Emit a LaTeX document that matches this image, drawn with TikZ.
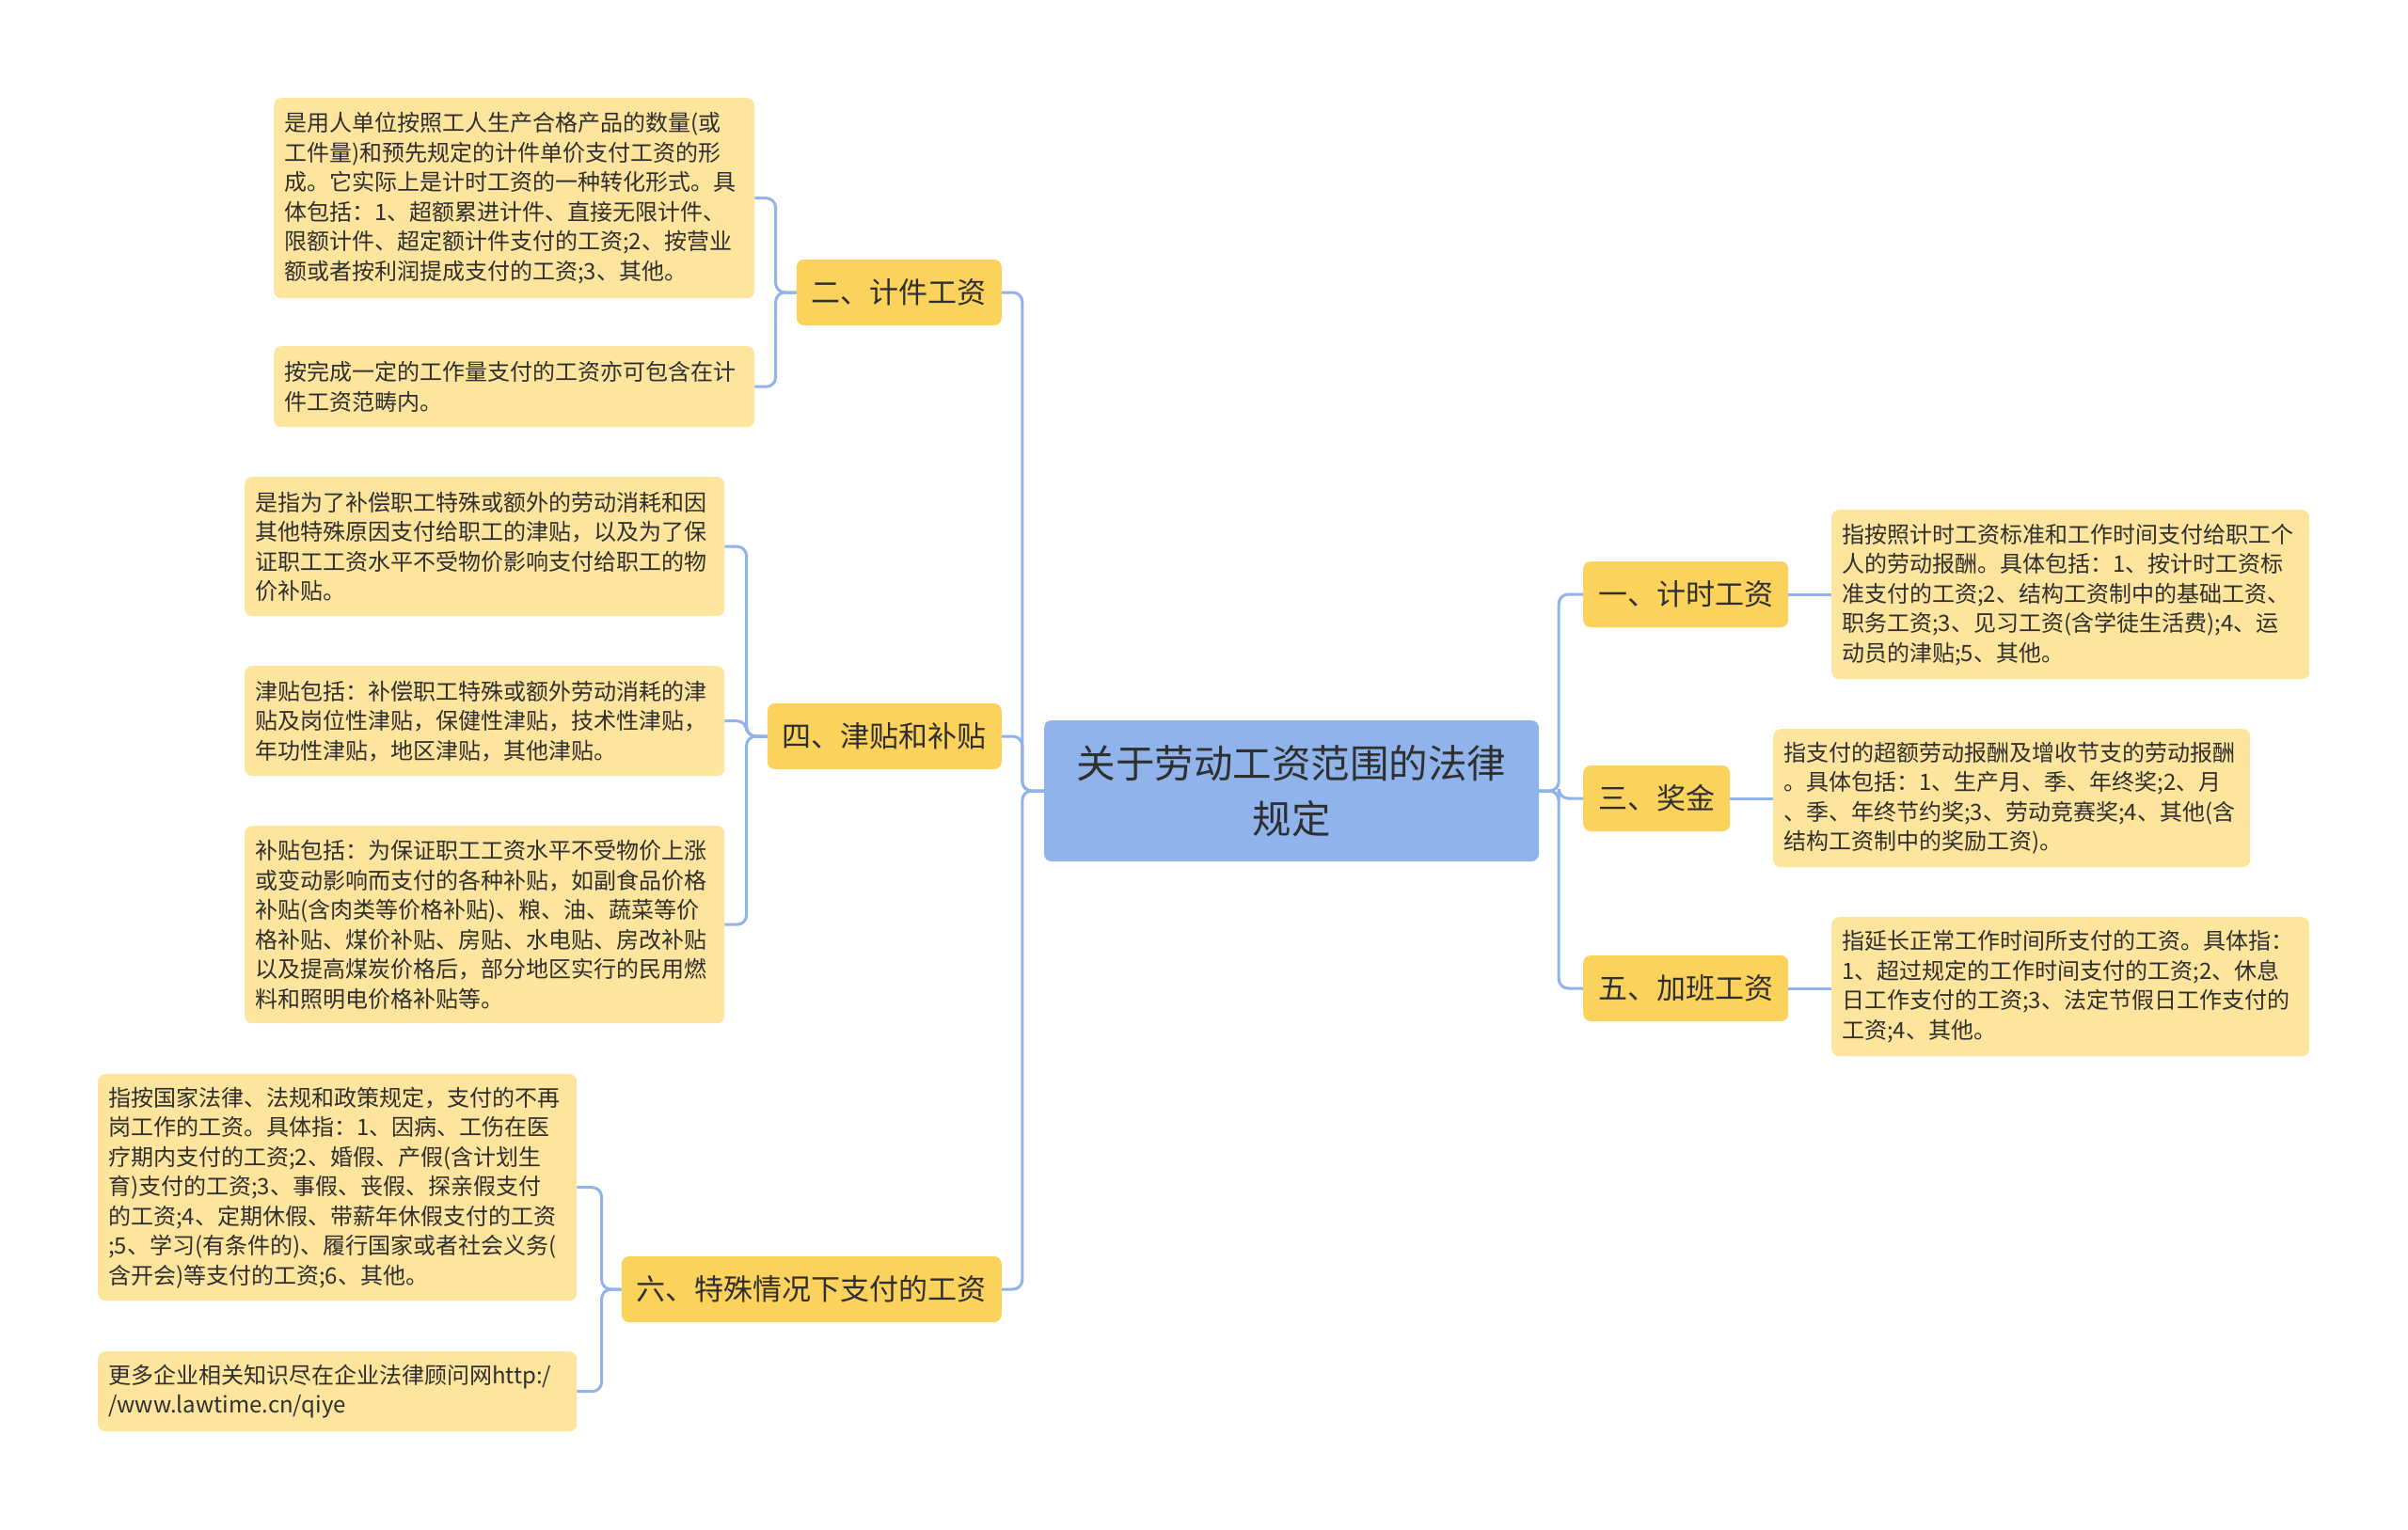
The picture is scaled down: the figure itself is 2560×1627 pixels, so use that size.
\documentclass[tikz,border=0pt]{standalone}
\usepackage{fontspec}
\newfontfamily\cjk{Noto Sans CJK SC}
\usepackage{tikz}

\definecolor{rootblue}{HTML}{8FB3EA}
\definecolor{branchyellow}{HTML}{FBD25B}
\definecolor{leafyellow}{HTML}{FDE59E}
\definecolor{textgray}{HTML}{2F2F2F}
\definecolor{linkblue}{HTML}{8FB3EA}

\tikzset{
  rootnode/.style={fill=rootblue, rounded corners=8pt, minimum width=526pt,
    minimum height=150pt, align=center, text=textgray,
    font=\cjk\fontsize{41.5}{59}\selectfont},
  branch/.style={fill=branchyellow, rounded corners=8pt, inner xsep=16pt,
    minimum height=70pt, text=textgray, font=\cjk\fontsize{31}{36}\selectfont},
  leaf/.style={fill=leafyellow, rounded corners=8pt, inner xsep=11pt,
    inner ysep=0pt, anchor=north west, align=left, text=textgray,
    font=\cjk\fontsize{24}{31.5}\selectfont},
  link/.style={draw=linkblue, line width=3pt, rounded corners=10pt},
}

\begin{document}
\begin{tikzpicture}[x=1pt,y=-1pt]
  \fill[white] (0,0) rectangle (2560,1627);
  % centre
  \node[rootnode] (root) at (1373,841) {关于劳动工资范围的法律\\规定};
  % left branches
  \node[branch,anchor=east] (b2) at (1065,311) {二、计件工资};
  \node[branch,anchor=east] (b4) at (1065,783) {四、津贴和补贴};
  \node[branch,anchor=east] (b6) at (1065,1371) {六、特殊情况下支付的工资};
  % right branches
  \node[branch,anchor=west] (b1) at (1683,632) {一、计时工资};
  \node[branch,anchor=west] (b3) at (1683,849) {三、奖金};
  \node[branch,anchor=west] (b5) at (1683,1051) {五、加班工资};
  % leaves of the left side
  \node[leaf,text width=489pt,minimum height=213pt] (l2a) at (291,104)
    {是用人单位按照工人生产合格产品的数量(或\\工件量)和预先规定的计件单价支付工资的形\\成。它实际上是计时工资的一种转化形式。具\\体包括：1、超额累进计件、直接无限计件、\\限额计件、超定额计件支付的工资;2、按营业\\额或者按利润提成支付的工资;3、其他。};
  \node[leaf,text width=489pt,minimum height=86pt] (l2b) at (291,368)
    {按完成一定的工作量支付的工资亦可包含在计\\件工资范畴内。};
  \node[leaf,text width=488pt,minimum height=148pt] (l4a) at (260,507)
    {是指为了补偿职工特殊或额外的劳动消耗和因\\其他特殊原因支付给职工的津贴，以及为了保\\证职工工资水平不受物价影响支付给职工的物\\价补贴。};
  \node[leaf,text width=488pt,minimum height=117pt] (l4b) at (260,708)
    {津贴包括：补偿职工特殊或额外劳动消耗的津\\贴及岗位性津贴，保健性津贴，技术性津贴，\\年功性津贴，地区津贴，其他津贴。};
  \node[leaf,text width=488pt,minimum height=210pt] (l4c) at (260,878)
    {补贴包括：为保证职工工资水平不受物价上涨\\或变动影响而支付的各种补贴，如副食品价格\\补贴(含肉类等价格补贴)、粮、油、蔬菜等价\\格补贴、煤价补贴、房贴、水电贴、房改补贴\\以及提高煤炭价格后，部分地区实行的民用燃\\料和照明电价格补贴等。};
  \node[leaf,text width=487pt,minimum height=241pt] (l6a) at (104,1142)
    {指按国家法律、法规和政策规定，支付的不再\\岗工作的工资。具体指：1、因病、工伤在医\\疗期内支付的工资;2、婚假、产假(含计划生\\育)支付的工资;3、事假、丧假、探亲假支付\\的工资;4、定期休假、带薪年休假支付的工资\\;5、学习(有条件的)、履行国家或者社会义务(\\含开会)等支付的工资;6、其他。};
  \node[leaf,text width=487pt,minimum height=85pt] (l6b) at (104,1437)
    {更多企业相关知识尽在企业法律顾问网http:/\\/www.lawtime.cn/qiye};
  % leaves of the right side
  \node[leaf,text width=486pt,minimum height=180pt] (l1) at (1947,542)
    {指按照计时工资标准和工作时间支付给职工个\\人的劳动报酬。具体包括：1、按计时工资标\\准支付的工资;2、结构工资制中的基础工资、\\职务工资;3、见习工资(含学徒生活费);4、运\\动员的津贴;5、其他。};
  \node[leaf,text width=485pt,minimum height=147pt] (l3) at (1885,775)
    {指支付的超额劳动报酬及增收节支的劳动报酬\\。具体包括：1、生产月、季、年终奖;2、月\\、季、年终节约奖;3、劳动竞赛奖;4、其他(含\\结构工资制中的奖励工资)。};
  \node[leaf,text width=486pt,minimum height=148pt] (l5) at (1947,975)
    {指延长正常工作时间所支付的工资。具体指：\\1、超过规定的工作时间支付的工资;2、休息\\日工作支付的工资;3、法定节假日工作支付的\\工资;4、其他。};
  % links
  \draw[link] (root.west) -- ++(-23,0) |- (b2.east);
  \draw[link] (root.west) -- ++(-23,0) |- (b4.east);
  \draw[link] (root.west) -- ++(-23,0) |- (b6.east);
  \draw[link] (root.east) -- ++(21,0) |- (b1.west);
  \draw[link] (root.east) -- ++(21,0) |- (b3.west);
  \draw[link] (root.east) -- ++(21,0) |- (b5.west);
  \draw[link] (b2.west) -- ++(-22,0) |- (l2a.east);
  \draw[link] (b2.west) -- ++(-22,0) |- (l2b.east);
  \draw[link] (b4.west) -- ++(-22,0) |- (l4a.east);
  \draw[link] (b4.west) -- ++(-22,0) |- (l4b.east);
  \draw[link] (b4.west) -- ++(-22,0) |- (l4c.east);
  \draw[link] (b6.west) -- ++(-21,0) |- (l6a.east);
  \draw[link] (b6.west) -- ++(-21,0) |- (l6b.east);
  \draw[link] (b1.east) -- (b1.east -| l1.west);
  \draw[link] (b3.east) -- (b3.east -| l3.west);
  \draw[link] (b5.east) -- (b5.east -| l5.west);
\end{tikzpicture}
\end{document}
